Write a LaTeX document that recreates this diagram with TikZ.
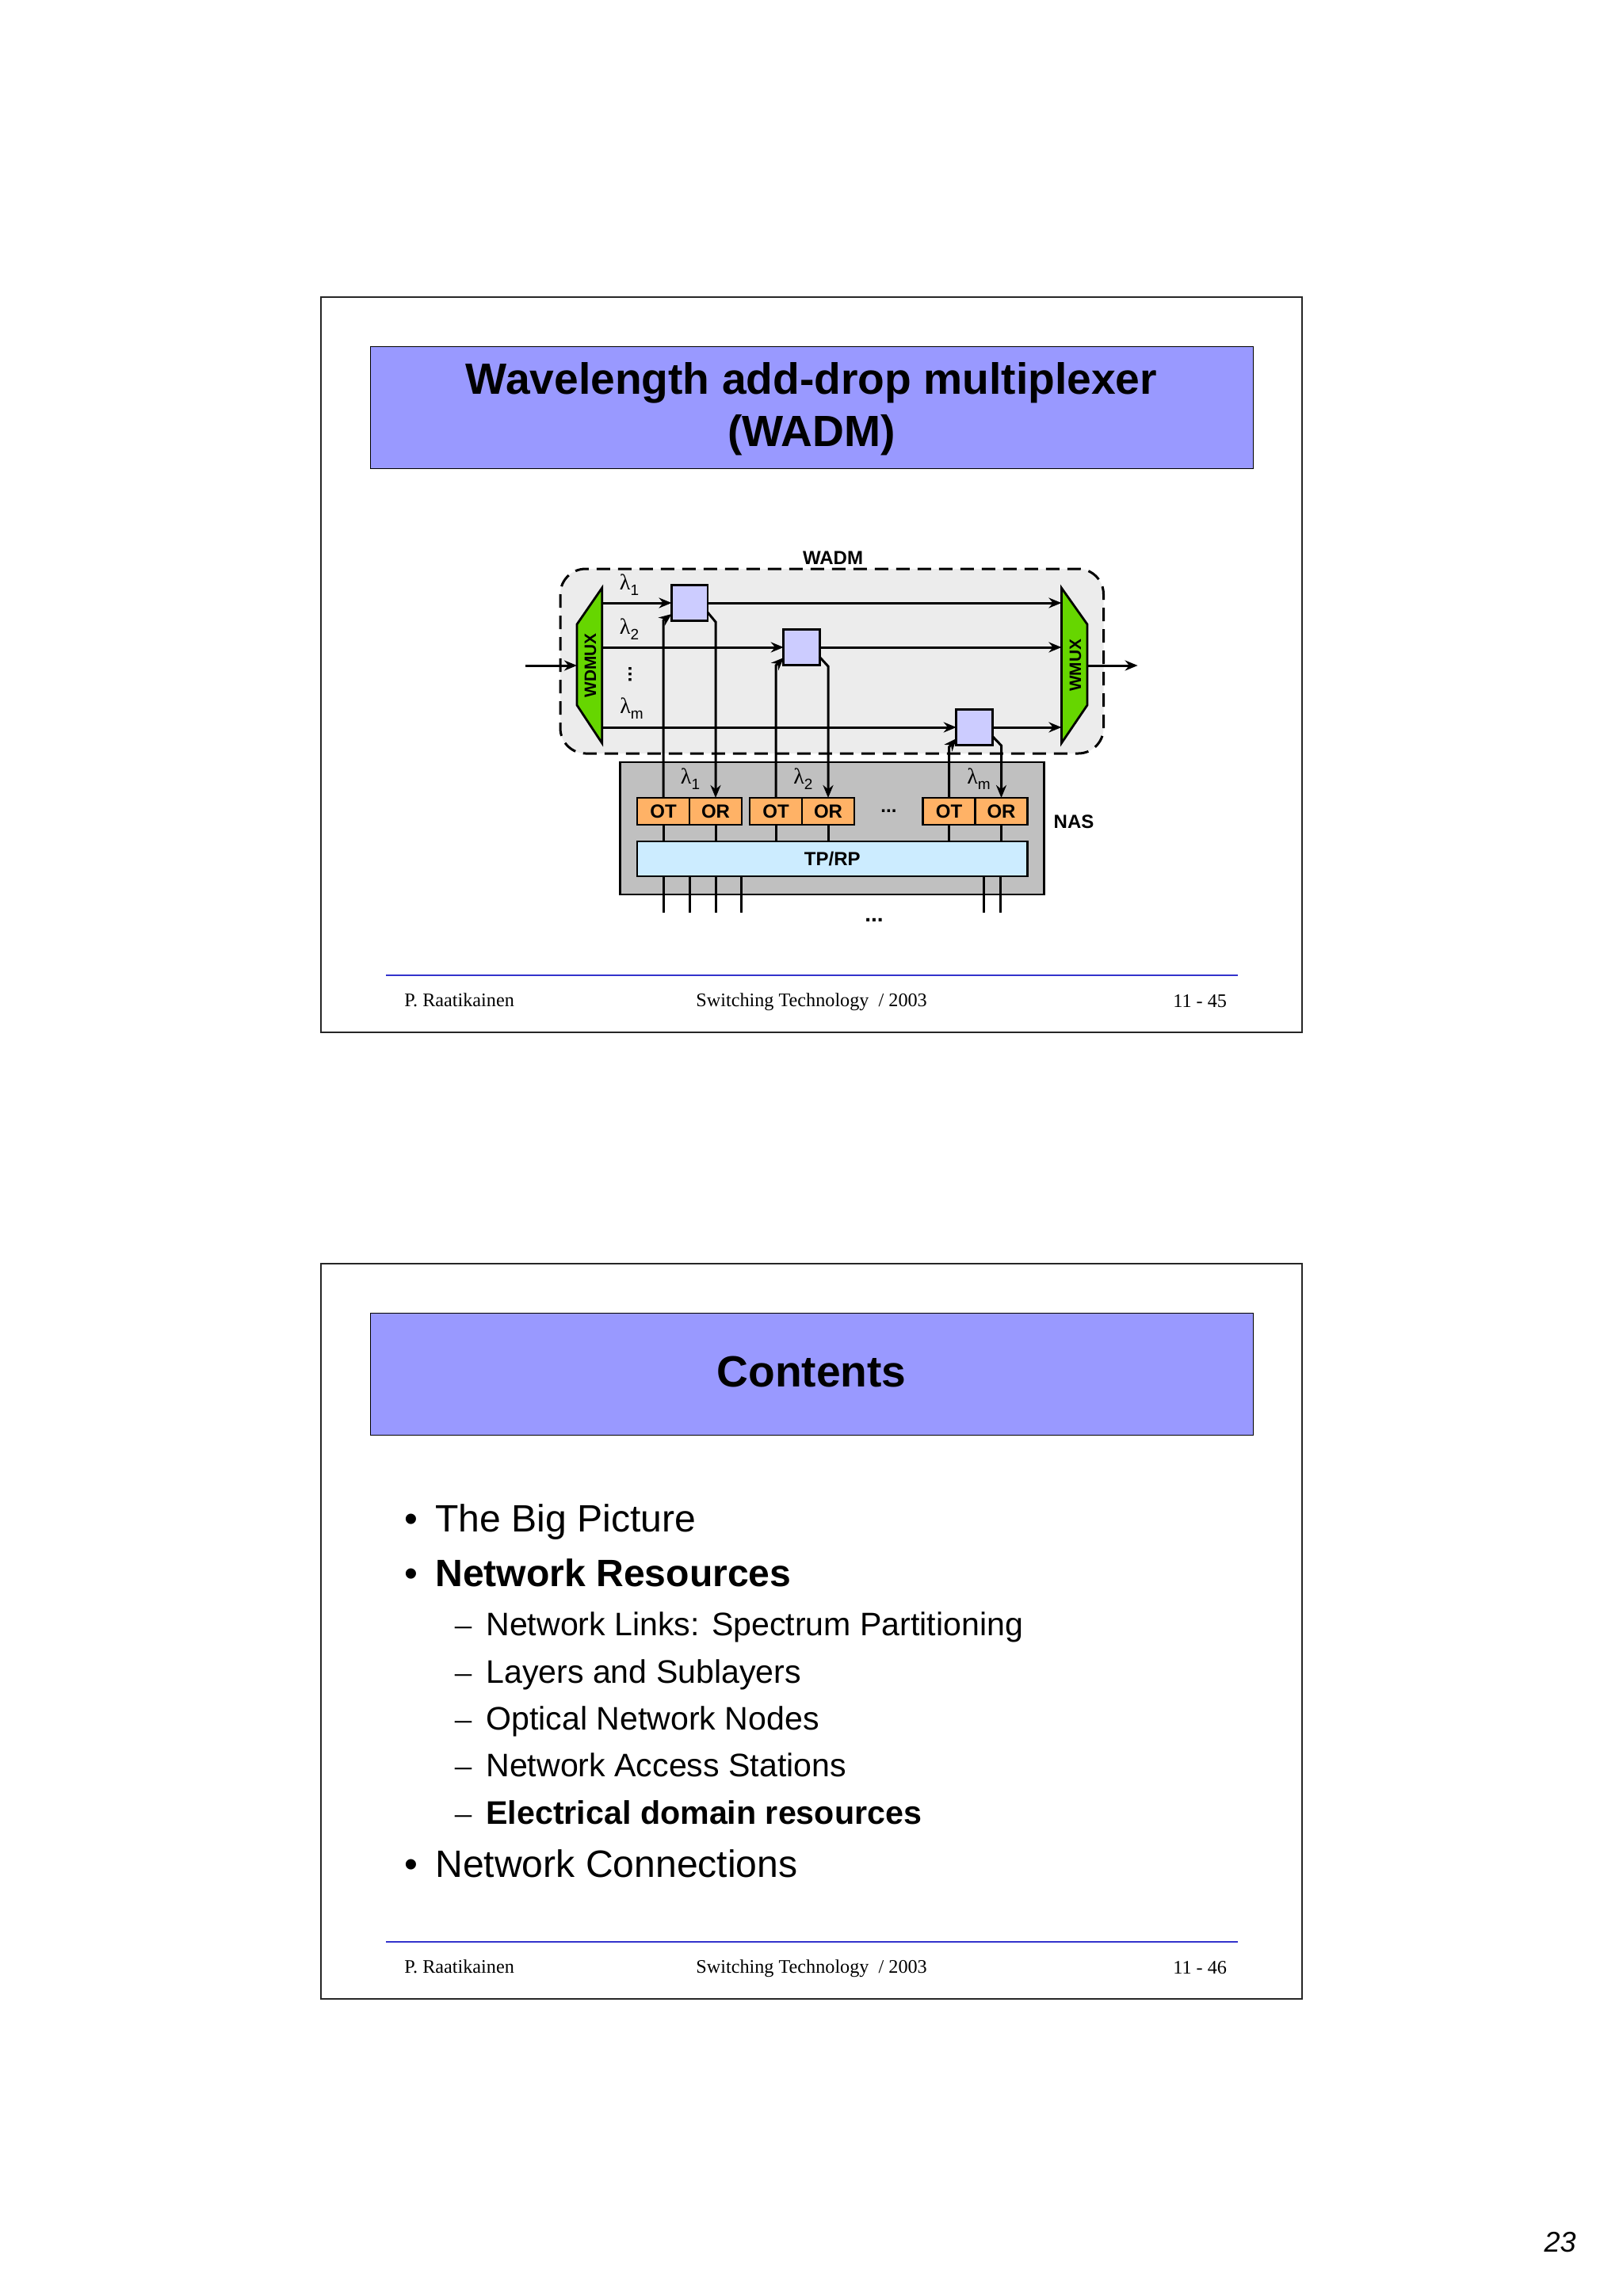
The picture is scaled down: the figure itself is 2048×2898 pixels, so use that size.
\documentclass[tikz,border=0pt]{standalone}
\usepackage{fontspec}
\setmainfont{Liberation Sans}
\newfontfamily\seriff{Liberation Serif}
\usetikzlibrary{arrows.meta}
\newcommand{\fs}[1]{\fontsize{#1}{#1}\selectfont}
\newcommand{\lam}[1]{{\seriff\fs{14}λ\raisebox{-0.25em}{\fs{9.5}\normalfont#1}}}
\definecolor{titleblue}{RGB}{153,153,255}
\definecolor{rulecol}{RGB}{51,51,204}
\definecolor{wadmbg}{RGB}{236,236,236}
\definecolor{nasgray}{RGB}{192,192,192}
\definecolor{muxgreen}{RGB}{102,214,0}
\definecolor{boxlil}{RGB}{204,204,255}
\definecolor{otor}{RGB}{255,178,102}
\definecolor{tpblue}{RGB}{204,236,255}
\tikzset{
 x=0.5pt,y=-0.5pt,
 slideframe/.style={draw=black!85,line width=0.7pt,fill=white},
 titlebox/.style={draw=black,line width=0.45pt,fill=titleblue},
 titletext/.style={font=\bfseries\fs{27.6},align=center,inner sep=0pt},
 foot/.style={font=\seriff\fs{12.1},inner sep=0pt,anchor=base west},
 heavy/.style={draw=black,line width=1.4pt},
 sig/.style={draw=black,line width=1.5pt},
 arr/.style={sig,-{Stealth[length=8pt,width=6.5pt]}},
 lab/.style={font=\bfseries\fs{12},inner sep=0pt},
 lbl/.style={inner sep=0pt},
 muxlab/.style={font=\bfseries\fs{10.4},inner sep=0pt,rotate=90},
 selbox/.style={heavy,fill=boxlil,minimum width=22.75pt,minimum height=22.75pt,inner sep=0pt,outer sep=0pt},
 trx/.style={heavy,fill=otor,font=\bfseries\fs{12},minimum width=33pt,minimum height=17pt,inner sep=0pt,outer sep=0pt},
 bullet1/.style={font=\fs{24.05},inner sep=0pt,anchor=base west},
 bullet2/.style={font=\fs{20.55},inner sep=0pt,anchor=base west},
 dashm/.style={font=\seriff\fs{21},inner sep=0pt,anchor=base west},
}
\begin{document}
\begin{tikzpicture}
\useasboundingbox (0,0) rectangle (2048,2898);
\fill[white] (0,0) rectangle (2048,2898);
% --- slide 1
\draw[slideframe] (405,375) rectangle (1643,1303);
\draw[titlebox] (467.5,437) rectangle (1581,591);
\node[titletext] (t1) at (1024,483.5) {Wavelength add-drop multiplexer};
\node[titletext] (t2) at (1024,549.5) {(WADM)};
% WADM region
\draw[fill=wadmbg,draw=black,line width=1.5pt,dash pattern=on 8.5pt off 5pt,rounded corners=16pt] (707,718) rectangle (1392.5,951);
\node[lab] (wadm) at (1051,704) {WADM};
\node[lbl] (l1) at (794,738) {\lam{1}};
\node[lbl] (l2) at (794,794) {\lam{2}};
\node[lab] (vd) at (795,851) {\rotatebox{90}{...}};
\node[lbl] (lm) at (797,894) {\lam{m}};
% NAS
\node[heavy,fill=nasgray,minimum width=267.75pt,minimum height=83.5pt,inner sep=0pt,outer sep=0pt] (nasbox) at (1050,1045.5) {};
% muxes
\draw[heavy,fill=muxgreen,line join=miter] (759.7,742) -- (728,788) -- (728,890) -- (759.7,938) -- cycle;
\draw[heavy,fill=muxgreen,line join=miter] (1339.4,742) -- (1372,788) -- (1372,890) -- (1339.4,938) -- cycle;
\node[muxlab] (wd) at (745,840) {WDMUX};
\node[muxlab] (wm) at (1357,840) {WMUX};
\coordinate (muxL1) at (759.7,761); \coordinate (muxL2) at (759.7,817); \coordinate (muxLm) at (759.7,918);
\coordinate (muxR1) at (1339.4,761); \coordinate (muxR2) at (1339.4,817); \coordinate (muxRm) at (1339.4,918);
\coordinate (in) at (662.5,840); \coordinate (inE) at (728,840);
\coordinate (outS) at (1372,840); \coordinate (out) at (1435.6,840);
% selectors
\node[selbox] (s1) at (870.25,761) {};
\node[selbox] (s2) at (1011.5,817) {};
\node[selbox] (s3) at (1229.5,918) {};
% OT/OR
\node[trx] (ot1) at (837,1024) {OT};
\node[trx] (or1) at (903,1024) {OR};
\node[trx] (ot2) at (979,1024) {OT};
\node[trx] (or2) at (1045,1024) {OR};
\node[trx] (ot3) at (1197.5,1024) {OT};
\node[trx] (or3) at (1263.5,1024) {OR};
\node[lab] (dots1) at (1121.4,1024) {...};
% TP/RP
\node[heavy,fill=tpblue,font=\bfseries\fs{12},minimum width=246.25pt,minimum height=22pt,inner sep=0pt,outer sep=0pt] (tp) at (1050.25,1084) {TP/RP};
\node[lab] (nas) at (1355,1037) {NAS};
\node[lbl] (n1) at (871,983) {\lam{1}};
\node[lbl] (n2) at (1013.4,983) {\lam{2}};
\node[lbl] (n3) at (1235,983) {\lam{m}};
% horizontal signals
\draw[arr] (muxL1) -- (s1.west);
\draw[arr] (muxL2) -- (s2.west);
\draw[arr] (muxLm) -- (s3.west);
\draw[arr] (s1.east) -- (muxR1);
\draw[arr] (s2.east) -- (muxR2);
\draw[arr] (s3.east) -- (muxRm);
\draw[arr] (in) -- (inE);
\draw[arr] (outS) -- (out);
% add paths
\coordinate (a1) at (837,783); \coordinate (a1e) at (847.5,775);
\coordinate (a2) at (979,840); \coordinate (a2e) at (989,830);
\coordinate (a3) at (1197.5,943); \coordinate (a3e) at (1207,932);
\draw[arr] (ot1.north) -- (a1) -- (a1e);
\draw[arr] (ot2.north) -- (a2) -- (a2e);
\draw[arr] (ot3.north) -- (a3) -- (a3e);
% drop paths
\coordinate (d1s) at (893,773); \coordinate (d1) at (903,785);
\coordinate (d2s) at (1034,829); \coordinate (d2) at (1045,841);
\coordinate (d3s) at (1252,929); \coordinate (d3) at (1263.5,941);
\draw[arr] (d1s) -- (d1) -- (or1.north);
\draw[arr] (d2s) -- (d2) -- (or2.north);
\draw[arr] (d3s) -- (d3) -- (or3.north);
% to TP/RP
\foreach \n in {ot1,or1,ot2,or2,ot3,or3}{\draw[sig] (\n.south) -- (\n.south |- tp.north);}
\foreach \x/\nm in {837/p1,870/p2,903/p3,935.3/p4,1241.4/p5,1262.5/p6}{
 \coordinate (\nm) at (\x,1152);
 \draw[sig] (\nm |- tp.south) -- (\nm);
}
\node[lab,font=\bfseries\fs{14}] (dots2) at (1103,1161) {...};
% footer 1
\draw[rulecol,line width=0.7pt] (487,1231) -- (1562,1231);
\node[foot] (f1) at (510,1270) {P. Raatikainen};
\node[foot] (f2) at (878,1270) {Switching Technology\ \ / 2003};
\node[foot] (f3) at (1480,1271) {11 - 45};
% --- slide 2
\draw[slideframe] (405,1595) rectangle (1643,2523);
\draw[titlebox] (467.5,1657) rectangle (1581,1811);
\node[titletext] (t3) at (1024,1731) {Contents};
\node[bullet1] (b0) at (510,1933) {•};
\node[bullet1] (b1) at (549,1933) {The Big Picture};
\node[bullet1] (b0b) at (510,2002) {•};
\node[bullet1,font=\bfseries\fs{24.05}] (b2) at (549,2002) {Network Resources};
\node[dashm] (d1m) at (574,2064) {–}; \node[bullet2] (c1) at (613,2064) {Network Links: Spectrum Partitioning};
\node[dashm] (d2m) at (574,2124) {–}; \node[bullet2] (c2) at (613,2124) {Layers and Sublayers};
\node[dashm] (d3m) at (574,2183) {–}; \node[bullet2] (c3) at (613,2183) {Optical Network Nodes};
\node[dashm] (d4m) at (574,2242) {–}; \node[bullet2] (c4) at (613,2242) {Network Access Stations};
\node[dashm] (d5m) at (574,2302) {–}; \node[bullet2,font=\bfseries\fs{20.6}] (c5) at (613,2302) {Electrical domain resources};
\node[bullet1] (b0c) at (510,2369) {•};
\node[bullet1] (b3) at (549,2369) {Network Connections};
% footer 2
\draw[rulecol,line width=0.7pt] (487,2451) -- (1562,2451);
\node[foot] (f4) at (510,2490) {P. Raatikainen};
\node[foot] (f5) at (878,2490) {Switching Technology\ \ / 2003};
\node[foot] (f6) at (1480,2491) {11 - 46};
\node[font=\itshape\fs{18},inner sep=0pt,anchor=base east] (pg) at (1989,2842) {23};
\end{tikzpicture}
\end{document}
